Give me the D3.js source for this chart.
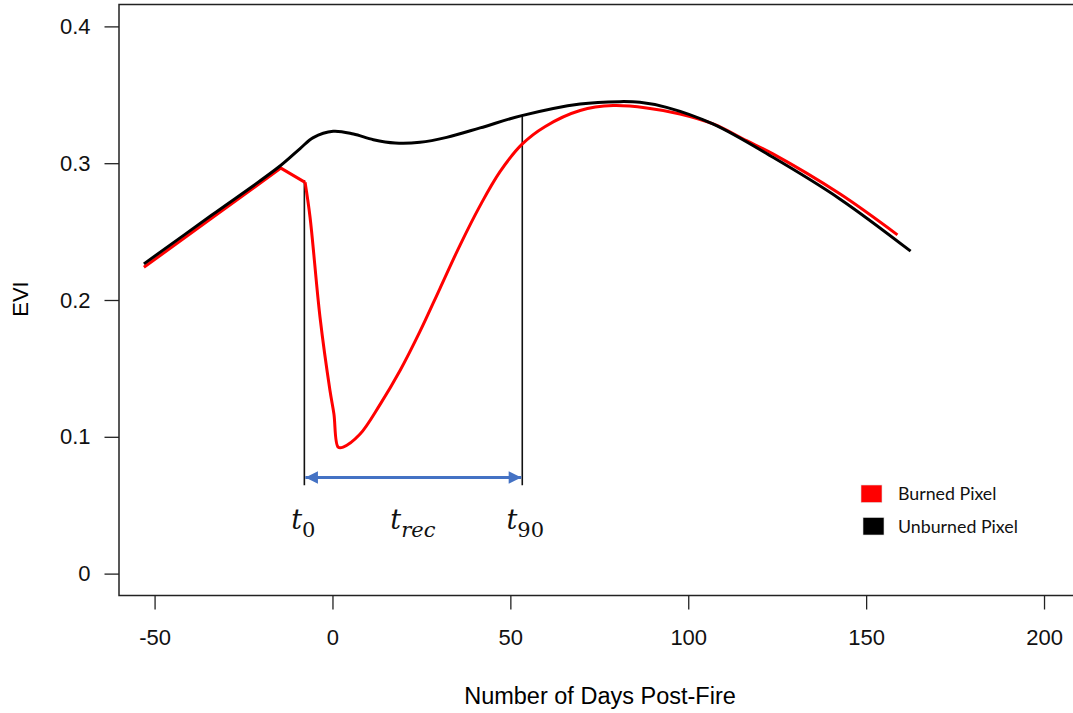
<html>
<head>
<meta charset="utf-8">
<script src='https://d3js.org/d3.v7.min.js'></script>
</head>

<style>
  body { margin: 0; background: white; }
  .tick text { font-family: "Liberation Sans", Arial, sans-serif; font-size: 22px; fill: #111; }
  .tick line { stroke: #222; stroke-width: 1.3px; }
  .legend text { font-family: Lato, "Open Sans", sans-serif; font-size: 17.8px; fill: #111; }
</style>

<body>
<svg width=1073 height=713></svg>
<script>

// unburned pixel (black)
const blackDays = [-53.0, -34.0, -15.2, -9.1, -5.4, 0.2, 5.9, 11.5, 17.6, 24.6, 32.1, 41.5, 53.2, 69.6, 80.8, 86.4, 93.9, 106.9, 123.8, 142.6, 162.5];
const blackEvi  = [0.2264, 0.2619, 0.2970, 0.3107, 0.3187, 0.3233, 0.3213, 0.3172, 0.3148, 0.3153, 0.3189, 0.3258, 0.3348, 0.3433, 0.3450, 0.3445, 0.3408, 0.3287, 0.3043, 0.2739, 0.2357];

// burned pixel (red)
const redDays = [-53.0, -34.0, -14.5, -7.7, -6.3, -3.5, -0.7, 0.4, 1.6, 3.0, 7.7, 13.4, 19.0, 24.6, 30.2, 35.8, 41.5, 47.1, 53.3, 59.7, 69.6, 78.9, 88.3, 97.7, 107.0, 116.4, 123.8, 142.6, 158.8];
const redEvi  = [0.2239, 0.2597, 0.2964, 0.2860, 0.2605, 0.1874, 0.1339, 0.1169, 0.0925, 0.0925, 0.1018, 0.1237, 0.1484, 0.1770, 0.2084, 0.2398, 0.2690, 0.2938, 0.3139, 0.3267, 0.3385, 0.3421, 0.3404, 0.3360, 0.3287, 0.3165, 0.3068, 0.2776, 0.2476];

const xTicks = [-50, 0, 50, 100, 150, 200];
const xTickLabels = ["-50", "0", "50", "100", "150", "200"];
const yTicks = [0, 0.1, 0.2, 0.3, 0.4];
const yTickLabels = ["0", "0.1", "0.2", "0.3", "0.4"];

// t0 and t90 markers
const markerDays = [-7.9, 53.35];
const markerTop = [0.2875, 0.3345];
const markerBottom = 0.0645;
const arrowEvi = 0.0703;
const markerLabels = [["t", "0"], ["t", "rec"], ["t", "90"]];
const markerLabelDays = [-8.2, 22.6, 54.2];

const legendLabels = ["Burned Pixel", "Unburned Pixel"];
const legendColors = ["#ff0000", "#000000"];

var x = d3.scaleLinear().domain([-60, 210]).range([119, 1079.6]);
var y = d3.scaleLinear().domain([-0.016, 0.416]).range([595.5, 4.5]);

var svg = d3.select("svg");

//box
svg.append("rect")
  .attr("x", x(-60)).attr("y", y(0.416))
  .attr("width", x(210) - x(-60)).attr("height", y(-0.016) - y(0.416))
  .attr("fill", "none").attr("stroke", "#222").attr("stroke-width", 1.5);

//axes
var xAxis = svg.append("g")
  .attr("transform", "translate(0," + y(-0.016) + ")")
  .call(d3.axisBottom(x).tickValues(xTicks).tickSize(14).tickPadding(20)
    .tickFormat(function(d, i) { return xTickLabels[i]; }));
xAxis.select(".domain").remove();

var yAxis = svg.append("g")
  .attr("transform", "translate(" + x(-60) + ",0)")
  .call(d3.axisLeft(y).tickValues(yTicks).tickSize(14.5).tickPadding(14)
    .tickFormat(function(d, i) { return yTickLabels[i]; }));
yAxis.select(".domain").remove();

//axis titles
svg.append("text")
  .attr("x", 600).attr("y", 704)
  .attr("text-anchor", "middle")
  .style("font-family", "Liberation Sans, Arial, sans-serif")
  .style("font-size", "23.5px")
  .text("Number of Days Post-Fire");

svg.append("text")
  .attr("transform", "translate(28,299) rotate(-90)")
  .attr("text-anchor", "middle")
  .style("font-family", "Liberation Sans, Arial, sans-serif")
  .style("font-size", "22px")
  .text("EVI");

//marker lines
markerDays.forEach(function(d, i) {
  svg.append("line")
    .attr("x1", x(d)).attr("x2", x(d))
    .attr("y1", y(markerTop[i])).attr("y2", y(markerBottom))
    .attr("stroke", "#111").attr("stroke-width", 1.6);
});

//recovery arrow
var defs = svg.append("defs");
defs.append("marker")
  .attr("id", "arrow")
  .attr("viewBox", "0 0 10 10")
  .attr("refX", 10).attr("refY", 5)
  .attr("markerWidth", 5).attr("markerHeight", 4.2)
  .attr("orient", "auto-start-reverse")
  .append("path")
  .attr("d", "M0,0 L10,5 L0,10 z")
  .attr("fill", "#4472c4");

svg.append("line")
  .attr("x1", x(markerDays[0]) + 1).attr("x2", x(markerDays[1]) - 1)
  .attr("y1", y(arrowEvi)).attr("y2", y(arrowEvi))
  .attr("stroke", "#4472c4").attr("stroke-width", 3)
  .attr("marker-start", "url(#arrow)")
  .attr("marker-end", "url(#arrow)");

//marker labels
markerLabels.forEach(function(l, i) {
  var t = svg.append("text")
    .attr("x", x(markerLabelDays[i])).attr("y", 529)
    .attr("text-anchor", "middle")
    .style("font-family", "DejaVu Serif, serif")
    .style("font-size", "27px")
    .style("fill", "#111");
  t.append("tspan").style("font-style", "italic").text(l[0]);
  t.append("tspan")
    .attr("dy", 8)
    .style("font-size", "21px")
    .style("font-style", l[1] === "rec" ? "italic" : "normal")
    .text(l[1]);
});

//curves
var smooth = d3.line()
  .x(function(d) { return x(d[0]); })
  .y(function(d) { return y(d[1]); })
  .curve(d3.curveCatmullRom.alpha(0.5));
var straight = d3.line()
  .x(function(d) { return x(d[0]); })
  .y(function(d) { return y(d[1]); });

var red = redDays.map(function(d, i) { return [d, redEvi[i]]; });
var black = blackDays.map(function(d, i) { return [d, blackEvi[i]]; });

svg.append("path")
  .attr("d", straight(red.slice(0, 4)))
  .attr("fill", "none").attr("stroke", "#ff0000").attr("stroke-width", 3)
  .attr("stroke-linejoin", "miter");
svg.append("path")
  .attr("d", smooth(red.slice(3)))
  .attr("fill", "none").attr("stroke", "#ff0000").attr("stroke-width", 3);

svg.append("path")
  .attr("d", smooth(black))
  .attr("fill", "none").attr("stroke", "#000").attr("stroke-width", 3);

//legend
var legend = svg.append("g").attr("class", "legend");
legendLabels.forEach(function(l, i) {
  legend.append("rect")
    .attr("x", 861 + i * 2).attr("y", 485 + i * 32.5)
    .attr("width", 21).attr("height", 17.5)
    .attr("fill", legendColors[i])
    .attr("stroke", "#ddd").attr("stroke-width", 0.6);
  legend.append("text")
    .attr("x", 898).attr("y", 500 + i * 33)
    .text(l);
});

</script>
</body>
</html>
